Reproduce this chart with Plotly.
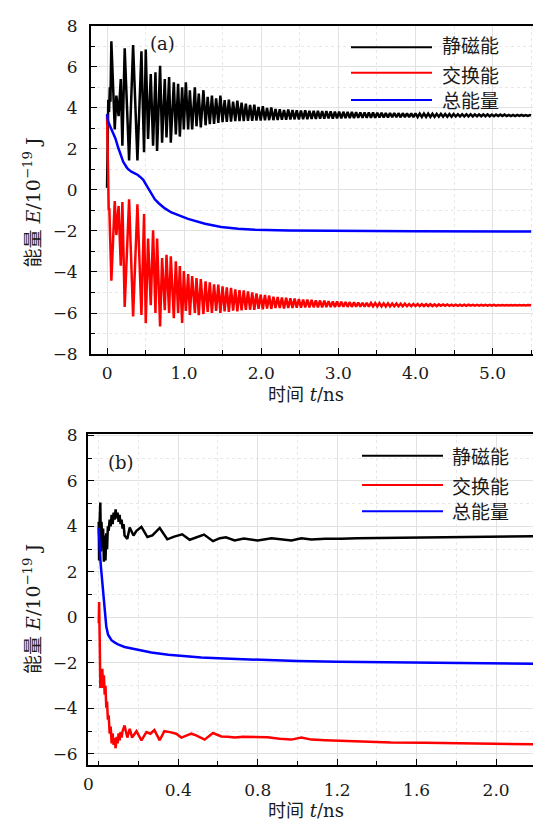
import plotly.graph_objects as go

W, H = 541, 824

# ---------------- panel (a) data ----------------
# start of the curves (before the first big oscillation)
a_black_t0 = [0.0, 0.016, 0.026, 0.036, 0.044]
a_black_e0 = [0.1, 4.4, 3.8, 5.0, 4.3]
a_red_t0 = [0.0, 0.014, 0.022, 0.03, 0.038]
a_red_e0 = [3.65, -0.5, -1.0, -0.9, -1.9]

# irregular early oscillation extrema (shared times, black and red in anti-phase)
a_osc_t = [0.056, 0.1, 0.121, 0.15, 0.178, 0.199, 0.229, 0.286, 0.338, 0.394,
           0.446, 0.48, 0.502, 0.532, 0.567, 0.597, 0.628, 0.649, 0.688, 0.714,
           0.749, 0.771, 0.805, 0.827, 0.866, 0.892, 0.922, 0.944, 0.974, 0.996,
           1.022, 1.052, 1.074, 1.104, 1.139, 1.16, 1.19, 1.216]
a_black_osc = [7.24, 2.95, 4.6, 3.6, 5.4, 2.16, 6.9, 1.44, 7.06, 1.44,
               6.76, 1.84, 6.84, 2.48, 5.65, 2.16, 5.73, 1.9, 6.05, 2.3,
               5.4, 2.56, 5.5, 2.3, 5.25, 2.7, 5.17, 2.6, 5.0, 2.95,
               5.25, 2.95, 4.86, 2.95, 5.0, 3.1, 4.7, 3.05]
a_red_osc = [-4.43, -0.54, -2.2, -0.78, -3.7, -0.59, -5.7, -0.46, -6.17, -0.7,
             -6.1, -1.17, -6.5, -2.37, -5.62, -1.97, -6.0, -2.37, -6.65, -3.32,
             -5.86, -3.16, -6.0, -3.24, -6.25, -3.48, -6.0, -3.71, -6.49, -3.95,
             -5.9, -4.1, -6.1, -4.2, -6.0, -4.3, -6.1, -4.35]

# later, regular oscillation: times of black maxima / black minima
a_peak_t = [1.25, 1.305, 1.36, 1.415, 1.47, 1.525, 1.58, 1.635, 1.69, 1.745,
            1.8, 1.855, 1.91, 1.965, 2.02, 2.075, 2.13, 2.185, 2.24, 2.295,
            2.35, 2.405, 2.46, 2.515, 2.57, 2.625, 2.68, 2.735, 2.79, 2.845,
            2.9, 2.955, 3.01, 3.065, 3.12, 3.175, 3.23, 3.285, 3.34, 3.395,
            3.45, 3.505, 3.56, 3.615, 3.67, 3.725, 3.78, 3.835, 3.89, 3.945,
            4.0, 4.055, 4.11, 4.165, 4.22, 4.275, 4.33, 4.385, 4.44, 4.495,
            4.55, 4.605, 4.66, 4.715, 4.77, 4.825, 4.88, 4.935, 4.99, 5.045,
            5.1, 5.155, 5.21, 5.265, 5.32, 5.375, 5.43, 5.485]
a_trough_t = [1.278, 1.333, 1.388, 1.443, 1.498, 1.553, 1.608, 1.663, 1.718, 1.773,
              1.828, 1.883, 1.938, 1.993, 2.048, 2.103, 2.158, 2.213, 2.268, 2.323,
              2.378, 2.433, 2.488, 2.543, 2.598, 2.653, 2.708, 2.763, 2.818, 2.873,
              2.928, 2.983, 3.038, 3.093, 3.148, 3.203, 3.258, 3.313, 3.368, 3.423,
              3.478, 3.533, 3.588, 3.643, 3.698, 3.753, 3.808, 3.863, 3.918, 3.973,
              4.028, 4.083, 4.138, 4.193, 4.248, 4.303, 4.358, 4.413, 4.468, 4.523,
              4.578, 4.633, 4.688, 4.743, 4.798, 4.853, 4.908, 4.963, 5.018, 5.073,
              5.128, 5.183, 5.238, 5.293, 5.348, 5.403, 5.458, 5.5]
a_black_hi = [4.86, 4.54, 4.6, 4.46, 4.6, 4.38, 4.4, 4.3, 4.35, 4.25,
              4.2, 4.14, 4.16, 4.05, 4.08, 4.0, 4.02, 3.95, 3.93, 3.9,
              3.92, 3.89, 3.88, 3.87, 3.88, 3.86, 3.85, 3.85, 3.84, 3.84,
              3.83, 3.82, 3.82, 3.81, 3.8, 3.8, 3.79, 3.78, 3.78, 3.77,
              3.77, 3.76, 3.76, 3.75, 3.75, 3.75, 3.74, 3.74, 3.73, 3.73,
              3.73, 3.72, 3.72, 3.72, 3.71, 3.71, 3.71, 3.7, 3.7, 3.7,
              3.69, 3.69, 3.69, 3.69, 3.68, 3.68, 3.68, 3.68, 3.67, 3.67,
              3.67, 3.67, 3.66, 3.66, 3.66, 3.66, 3.65, 3.65]
a_black_lo = [3.15, 3.2, 3.22, 3.27, 3.3, 3.32, 3.33, 3.35, 3.35, 3.36,
              3.37, 3.37, 3.38, 3.38, 3.39, 3.4, 3.4, 3.41, 3.42, 3.42,
              3.43, 3.44, 3.44, 3.45, 3.45, 3.46, 3.46, 3.47, 3.47, 3.48,
              3.48, 3.49, 3.49, 3.5, 3.5, 3.5, 3.51, 3.51, 3.52, 3.52,
              3.52, 3.53, 3.53, 3.53, 3.54, 3.54, 3.54, 3.55, 3.55, 3.55,
              3.55, 3.56, 3.56, 3.56, 3.56, 3.57, 3.57, 3.57, 3.57, 3.58,
              3.58, 3.58, 3.58, 3.58, 3.59, 3.59, 3.59, 3.59, 3.59, 3.6,
              3.6, 3.6, 3.6, 3.6, 3.61, 3.61, 3.61, 3.63]
a_red_lo = [-6.05, -5.95, -6.0, -5.9, -6.0, -5.92, -5.95, -5.88, -5.92, -5.87,
            -5.85, -5.84, -5.85, -5.8, -5.82, -5.78, -5.8, -5.76, -5.76, -5.78,
            -5.76, -5.75, -5.74, -5.74, -5.73, -5.73, -5.72, -5.72, -5.72, -5.71,
            -5.71, -5.71, -5.7, -5.7, -5.7, -5.7, -5.69, -5.69, -5.69, -5.69,
            -5.68, -5.68, -5.68, -5.68, -5.68, -5.67, -5.67, -5.67, -5.67, -5.67,
            -5.66, -5.66, -5.66, -5.66, -5.66, -5.66, -5.65, -5.65, -5.65, -5.65,
            -5.65, -5.65, -5.65, -5.64, -5.64, -5.64, -5.64, -5.64, -5.64, -5.64,
            -5.63, -5.63, -5.63, -5.63, -5.63, -5.63, -5.63, -5.63]
a_red_hi = [-4.45, -4.5, -4.6, -4.62, -4.7, -4.75, -4.78, -4.85, -4.88, -4.9,
            -4.95, -5.0, -5.05, -5.1, -5.12, -5.15, -5.2, -5.22, -5.24, -5.26,
            -5.28, -5.3, -5.32, -5.34, -5.35, -5.36, -5.38, -5.39, -5.4, -5.42,
            -5.43, -5.44, -5.45, -5.46, -5.47, -5.48, -5.49, -5.5, -5.5, -5.51,
            -5.52, -5.52, -5.53, -5.53, -5.54, -5.54, -5.55, -5.55, -5.56, -5.56,
            -5.56, -5.57, -5.57, -5.57, -5.58, -5.58, -5.58, -5.58, -5.59, -5.59,
            -5.59, -5.59, -5.59, -5.6, -5.6, -5.6, -5.6, -5.6, -5.6, -5.61,
            -5.61, -5.61, -5.61, -5.61, -5.61, -5.61, -5.61, -5.62]

a_blue_t = [0, 0.013, 0.04, 0.078, 0.11, 0.143, 0.186, 0.21, 0.25, 0.27,
            0.316, 0.36, 0.40, 0.44, 0.47, 0.5, 0.53, 0.57, 0.62, 0.67,
            0.705, 0.75, 0.835, 0.9, 1.05, 1.27, 1.48, 1.7, 1.92, 2.35,
            3.0, 4.0, 5.5]
a_blue_e = [3.7, 3.35, 3.1, 2.8, 2.5, 2.08, 1.6, 1.37, 1.13, 1.02,
            0.89, 0.8, 0.73, 0.6, 0.49, 0.3, 0.1, -0.15, -0.46, -0.65,
            -0.78, -0.9, -1.1, -1.2, -1.41, -1.65, -1.81, -1.89, -1.94, -1.98,
            -2.01, -2.02, -2.03]

# ---------------- panel (b) data ----------------
b_black_t = [0.0, 0.002, 0.005, 0.008, 0.011, 0.014, 0.018, 0.022, 0.026, 0.03,
             0.034, 0.038, 0.042, 0.046, 0.05, 0.055, 0.06, 0.065, 0.07, 0.075,
             0.08, 0.085, 0.09, 0.095, 0.1, 0.105, 0.11, 0.115, 0.12, 0.125,
             0.13, 0.144, 0.156, 0.175, 0.19, 0.215, 0.245, 0.27, 0.307, 0.345,
             0.38, 0.42, 0.458, 0.49, 0.53, 0.575, 0.61, 0.64, 0.684, 0.73,
             0.8, 0.87, 0.93, 0.97, 1.02, 1.07, 1.14, 1.22, 1.3, 1.4,
             1.5, 1.64, 1.8, 2.0, 2.2]
b_black_e = [4.2, 2.5, 4.3, 5.05, 2.9, 4.2, 3.1, 3.9, 2.45, 3.6,
             2.5, 3.7, 3.0, 4.0, 3.8, 4.3, 4.0, 4.5, 4.1, 4.6,
             4.3, 4.75, 4.35, 4.6, 4.2, 4.5, 4.1, 4.3, 3.9, 4.1,
             3.6, 3.45, 3.95, 3.6, 3.8, 3.98, 3.53, 3.6, 3.93, 3.43,
             3.55, 3.65, 3.41, 3.5, 3.64, 3.35, 3.48, 3.52, 3.38, 3.46,
             3.38, 3.48, 3.4, 3.38, 3.48, 3.42, 3.46, 3.45, 3.48, 3.49,
             3.5, 3.52, 3.54, 3.56, 3.57]
b_red_t = [0.0, 0.002, 0.005, 0.008, 0.011, 0.014, 0.018, 0.022, 0.026, 0.03,
           0.034, 0.038, 0.042, 0.046, 0.05, 0.055, 0.06, 0.065, 0.07, 0.075,
           0.08, 0.085, 0.09, 0.095, 0.1, 0.105, 0.11, 0.115, 0.12, 0.13,
           0.144, 0.156, 0.168, 0.19, 0.215, 0.24, 0.26, 0.28, 0.307, 0.33,
           0.358, 0.39, 0.416, 0.466, 0.49, 0.533, 0.575, 0.617, 0.65, 0.684,
           0.726, 0.785, 0.85, 0.91, 0.97, 1.02, 1.07, 1.14, 1.22, 1.3,
           1.47, 1.64, 1.89, 2.2]
b_red_e = [-0.26, 0.67, -0.97, -3.1, -2.5, -3.1, -2.26, -3.1, -2.54, -3.4,
           -3.0, -3.97, -3.7, -4.5, -4.3, -5.11, -4.8, -5.54, -5.1, -5.6,
           -5.3, -5.75, -5.25, -5.54, -5.1, -5.4, -5.04, -5.28, -5.0, -4.75,
           -5.28, -4.9, -5.28, -5.0, -5.4, -5.04, -5.11, -4.95, -5.4, -5.0,
           -5.04, -5.11, -5.28, -5.11, -5.18, -5.37, -5.08, -5.23, -5.24, -5.28,
           -5.24, -5.25, -5.27, -5.33, -5.37, -5.28, -5.37, -5.4, -5.42, -5.47,
           -5.5, -5.51, -5.55, -5.58]
b_blue_t = [0, 0.005, 0.009, 0.013, 0.018, 0.022, 0.026, 0.03, 0.038, 0.047,
            0.055, 0.064, 0.08, 0.097, 0.13, 0.18, 0.265, 0.35, 0.43, 0.516,
            0.6, 0.684, 0.8, 0.9, 1.0, 1.2, 1.4, 1.6, 1.8, 2.0, 2.2]
b_blue_e = [3.95, 2.88, 2.45, 2.03, 1.5, 1.03, 0.6, 0.17, -0.4, -0.76,
            -0.9, -1.0, -1.1, -1.19, -1.3, -1.4, -1.54, -1.64, -1.71, -1.76,
            -1.8, -1.83, -1.87, -1.9, -1.92, -1.95, -1.97, -2.0, -2.01, -2.02,
            -2.04]

# ---------------- texts / ticks ----------------
series_names = ["静磁能", "交换能", "总能量"]
series_colors = ["#000000", "#ff0000", "#0000ff"]
a_xticks = [0, 1, 2, 3, 4, 5]
a_xticktext = ["0", "1.0", "2.0", "3.0", "4.0", "5.0"]
b_xticks = [0.4, 0.8, 1.2, 1.6, 2.0]
b_xticktext = ["0.4", "0.8", "1.2", "1.6", "2.0"]
b_xminor = [0, 0.2, 0.6, 1.0, 1.4, 1.8, 2.2]
x_title = "时间 <i>t</i>/ns"
y_title = "能量 <i>E</i>/10<sup>−19</sup> J"


def interleave(p, q):
    out = []
    for u, v in zip(p, q):
        out += [u, v]
    return out


a_black_x = a_black_t0 + a_osc_t + interleave(a_peak_t, a_trough_t)
a_black_y = a_black_e0 + a_black_osc + interleave(a_black_hi, a_black_lo)
a_red_x = a_red_t0 + a_osc_t + interleave(a_peak_t, a_trough_t)
a_red_y = a_red_e0 + a_red_osc + interleave(a_red_lo, a_red_hi)

SERIF = "DejaVu Serif, Liberation Serif, serif"
TITLE = "DejaVu Serif, Noto Sans CJK SC, serif"
CJK = "Liberation Serif, Noto Sans CJK SC, sans-serif"
TXT = "#1a1a1a"

fig = go.Figure()
LW = 2.5
for xs, ys, c, xa, ya in [
    (a_black_x, a_black_y, series_colors[0], "x", "y"),
    (a_red_x, a_red_y, series_colors[1], "x", "y"),
    (a_blue_t, a_blue_e, series_colors[2], "x", "y"),
    (b_black_t, b_black_e, series_colors[0], "x2", "y2"),
    (b_red_t, b_red_e, series_colors[1], "x2", "y2"),
    (b_blue_t, b_blue_e, series_colors[2], "x2", "y2"),
]:
    fig.add_trace(go.Scatter(x=xs, y=ys, mode="lines", line=dict(color=c, width=LW),
                             xaxis=xa, yaxis=ya, showlegend=False, hoverinfo="skip"))


def px(xp):
    return xp / W


def py(yp):
    return 1 - yp / H


def axis(**kw):
    d = dict(showline=True, linecolor="black", linewidth=1.8, mirror=True,
             ticks="inside", ticklen=6, tickwidth=1.2, tickcolor="black",
             showgrid=True, gridcolor="#e2e2e2", gridwidth=1, zeroline=False,
             tickfont=dict(family=SERIF, size=17, color=TXT),
             minor=dict(ticks="inside", ticklen=4, tickwidth=1, tickcolor="black",
                        showgrid=True, gridcolor="#e8e8e8", griddash="dot", gridwidth=1))
    mn = kw.pop("minor", None)
    if mn:
        d["minor"].update(mn)
    d.update(kw)
    return d


fig.update_layout(
    width=W, height=H, margin=dict(l=0, r=0, t=0, b=0),
    paper_bgcolor="white", plot_bgcolor="white",
    xaxis=axis(domain=[px(83), px(537)], range=[-0.208, 5.68], anchor="y",
               tickmode="array", tickvals=a_xticks, ticktext=a_xticktext,
               ticklabelstandoff=3, minor=dict(dtick=0.5, tick0=0)),
    yaxis=axis(domain=[py(345), py(9)], range=[-8, 8], anchor="x",
               dtick=2, tick0=0, ticklabelstandoff=8, minor=dict(dtick=1, tick0=0)),
    xaxis2=axis(domain=[px(80), px(537)], range=[-0.054, 2.246], anchor="y2",
                tickmode="array", tickvals=b_xticks, ticktext=b_xticktext,
                ticklabelstandoff=8,
                minor=dict(tickmode="array", tickvals=b_xminor)),
    yaxis2=axis(domain=[py(766), py(427)], range=[-6.5, 8.05], anchor="x2",
                dtick=2, tick0=0, ticklabelstandoff=5, minor=dict(dtick=1, tick0=0)),
)

ann = []
# axis titles
for xc, yc in [(298, 386), (298, 812)]:
    ann.append(dict(x=px(xc), y=py(yc), xref="paper", yref="paper", text=x_title,
                    showarrow=False, font=dict(family=TITLE, size=18, color=TXT),
                    xanchor="center", yanchor="middle"))
for xc, yc in [(24, 190), (24, 606)]:
    ann.append(dict(x=px(xc), y=py(yc), xref="paper", yref="paper", text=y_title,
                    showarrow=False, textangle=-90, font=dict(family=TITLE, size=19, color=TXT),
                    xanchor="center", yanchor="middle"))
# panel labels
ann.append(dict(x=px(154), y=py(27), xref="paper", yref="paper", text="(a)", showarrow=False,
                font=dict(family=SERIF, size=18, color=TXT), xanchor="center", yanchor="middle"))
ann.append(dict(x=px(113), y=py(456), xref="paper", yref="paper", text="(b)", showarrow=False,
                font=dict(family=SERIF, size=18, color=TXT), xanchor="center", yanchor="middle"))
# "0" tick label of panel (b), drawn left of its tick as in the original
ann.append(dict(x=px(80), y=py(785), xref="paper", yref="paper", text="0", showarrow=False,
                font=dict(family=SERIF, size=17, color=TXT), xanchor="center", yanchor="middle"))

shapes = []
# legends
leg_a = dict(x0=343, x1=424, tx=432, ly=[31, 57, 85], ty=[30, 61, 86])
leg_b = dict(x0=354, x1=435, tx=442, ly=[449, 479, 506], ty=[451, 482, 507])
for lg in (leg_a, leg_b):
    for i in range(3):
        shapes.append(dict(type="line", xref="paper", yref="paper",
                           x0=px(lg["x0"]), x1=px(lg["x1"]), y0=py(lg["ly"][i]), y1=py(lg["ly"][i]),
                           line=dict(color=series_colors[i], width=2)))
        ann.append(dict(x=px(lg["tx"]), y=py(lg["ty"][i]), xref="paper", yref="paper",
                        text=series_names[i], showarrow=False,
                        font=dict(family=CJK, size=19, color=TXT),
                        xanchor="left", yanchor="middle"))

fig.update_layout(annotations=ann, shapes=shapes)
fig.write_html("out.html")
